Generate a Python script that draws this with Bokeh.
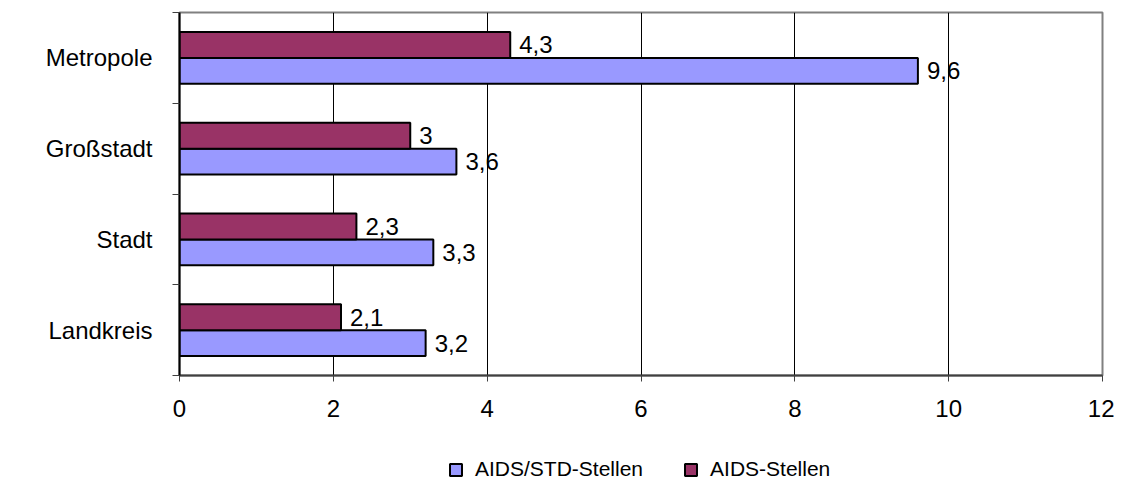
from bokeh.plotting import figure
from bokeh.layouts import column
from bokeh.models import FixedTicker, Legend, LegendItem, ColumnDataSource
from bokeh.core.properties import value
from bokeh.embed import file_html
from bokeh.resources import INLINE

# ---- data ----
categories = ["Landkreis", "Stadt", "Großstadt", "Metropole"]
aids_std = [3.2, 3.3, 3.6, 9.6]
aids = [2.1, 2.3, 3.0, 4.3]
x_ticks = [0, 2, 4, 6, 8, 10, 12]
series_names = ["AIDS/STD-Stellen", "AIDS-Stellen"]
colors = ["#9999FF", "#993366"]

FONT = "Liberation Sans"
FS = "24px"
LFS = "21px"

pos = list(range(len(categories)))
bar_h = 0.286
off = 0.143


def fmt(v):
    return f"{v:g}".replace(".", ",")


src_blue = ColumnDataSource(dict(y=[i - off for i in pos], x=aids_std,
                                 lab=[fmt(v) for v in aids_std]))
src_red = ColumnDataSource(dict(y=[i + off for i in pos], x=aids,
                                lab=[fmt(v) for v in aids]))

p = figure(width=1114, height=432, x_range=(0, 12), y_range=(-0.5, len(categories) - 0.5),
           output_backend="svg", toolbar_location=None,
           min_border_left=179, min_border_right=12, min_border_top=12, min_border_bottom=57)

r_blue = p.hbar(y="y", right="x", left=0, height=bar_h, source=src_blue,
                fill_color=colors[0], line_color="black", line_width=2)
r_red = p.hbar(y="y", right="x", left=0, height=bar_h, source=src_red,
               fill_color=colors[1], line_color="black", line_width=2)

for src in (src_blue, src_red):
    p.text(x="x", y="y", text="lab", source=src, x_offset=9, text_baseline="middle",
           text_align="left", text_font=value(FONT), text_font_size=FS, text_color="black")

# frame / grid
p.outline_line_color = "#808080"
p.outline_line_width = 2
p.ygrid.grid_line_color = None
p.xgrid.ticker = FixedTicker(ticks=x_ticks)
p.xgrid.grid_line_color = "black"
p.xgrid.grid_line_width = 1

# x axis
p.xaxis.ticker = FixedTicker(ticks=x_ticks)
p.xaxis.axis_line_color = "#404040"
p.xaxis.axis_line_width = 2
p.xaxis.major_tick_line_color = "#404040"
p.xaxis.major_tick_out = 6
p.xaxis.major_tick_in = 0
p.xaxis.minor_tick_line_color = None
p.xaxis.major_label_standoff = 18
p.xaxis.major_label_text_font = FONT
p.xaxis.major_label_text_font_size = FS
p.xaxis.major_label_text_color = "black"

# y axis
p.yaxis.ticker = FixedTicker(ticks=pos, minor_ticks=[i - 0.5 for i in range(len(categories) + 1)])
p.yaxis.major_label_overrides = {i: c for i, c in zip(pos, categories)}
p.yaxis.axis_line_color = "black"
p.yaxis.axis_line_width = 2
p.yaxis.major_tick_line_color = None
p.yaxis.major_tick_out = 0
p.yaxis.major_tick_in = 0
p.yaxis.minor_tick_line_color = "#404040"
p.yaxis.minor_tick_out = 7
p.yaxis.minor_tick_in = 0
p.yaxis.major_label_standoff = 20
p.yaxis.major_label_text_font = FONT
p.yaxis.major_label_text_font_size = FS
p.yaxis.major_label_text_color = "black"

# ---- legend strip (its renderers are hidden; only the legend shows) ----
q = figure(width=1114, height=55, x_range=(0, 1), y_range=(0, 1),
           x_axis_type=None, y_axis_type=None, output_backend="svg", toolbar_location=None,
           min_border=0)
q.outline_line_color = None
q.grid.visible = False
lg_blue = q.hbar(y=[0.5], right=[1], left=0, height=0.5,
                 fill_color=colors[0], line_color="black", line_width=2, visible=False)
lg_red = q.hbar(y=[0.5], right=[1], left=0, height=0.5,
                fill_color=colors[1], line_color="black", line_width=2, visible=False)

legend = Legend(items=[LegendItem(label=series_names[0], renderers=[lg_blue]),
                       LegendItem(label=series_names[1], renderers=[lg_red])],
                orientation="horizontal", location=(269, 6),
                label_text_font=FONT, label_text_font_size=LFS, label_text_color="black",
                glyph_width=15, glyph_height=15, label_standoff=12, spacing=40,
                border_line_color=None, background_fill_alpha=0,
                padding=2, margin=0)
q.add_layout(legend, "center")

layout = column(p, q, spacing=0)
open("out.html", "w").write(file_html(layout, INLINE))
